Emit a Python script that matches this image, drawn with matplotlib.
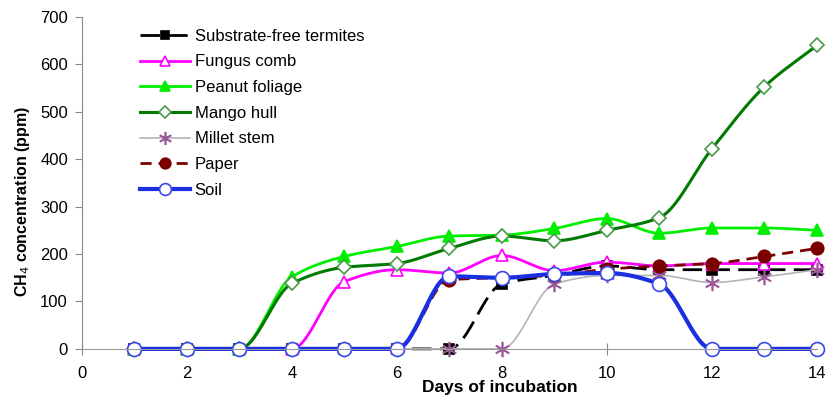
import numpy as np
import matplotlib
matplotlib.use("Agg")
from matplotlib import pyplot as plt
from matplotlib.lines import Line2D

plt.rcParams['font.family'] = ['Liberation Sans', 'DejaVu Sans']

days = [1, 2, 3, 4, 5, 6, 7, 8, 9, 10, 11, 12, 13, 14]

termites = [0, 0, 0, 0, 0, 0, 0, 137, 155, 175, 167, 167, 167, 167]
fungus = [0, 0, 0, 0, 142, 167, 160, 197, 165, 183, 175, 180, 180, 180]
peanut = [0, 0, 0, 152, 195, 216, 238, 240, 254, 275, 244, 255, 255, 250]
mango = [0, 0, 0, 138, 172, 180, 212, 238, 228, 250, 277, 422, 553, 640]
millet = [0, 0, 0, 0, 0, 0, 0, 0, 137, 155, 155, 140, 152, 167]
paper = [0, 0, 0, 0, 0, 0, 146, 150, 155, 168, 175, 180, 195, 212]
soil = [0, 0, 0, 0, 0, 0, 153, 150, 158, 160, 137, 0, 0, 0]

names = ['Substrate-free termites', 'Fungus comb', 'Peanut foliage',
         'Mango hull', 'Millet stem', 'Paper', 'Soil']


def smooth(x, y, n=30):
    # monotone cubic hermite (Fritsch-Carlson), no overshoot below the flat zero parts
    x = np.asarray(x, float)
    y = np.asarray(y, float)
    h = np.diff(x)
    d = np.diff(y) / h
    m = np.zeros_like(y)
    m[0], m[-1] = d[0], d[-1]
    for i in range(1, len(y) - 1):
        if d[i - 1] * d[i] > 0:
            m[i] = 2.0 / (1.0 / d[i - 1] + 1.0 / d[i])
    xs, ys = [], []
    t = np.linspace(0, 1, n)
    for i in range(len(h)):
        h00 = 2 * t ** 3 - 3 * t ** 2 + 1
        h10 = t ** 3 - 2 * t ** 2 + t
        h01 = -2 * t ** 3 + 3 * t ** 2
        h11 = t ** 3 - t ** 2
        xs.extend(x[i] + t * h[i])
        ys.extend(h00 * y[i] + h10 * h[i] * m[i] + h01 * y[i + 1] + h11 * h[i] * m[i + 1])
    return xs, ys


fig = plt.figure(figsize=(8.26, 3.96), dpi=100)
ax = fig.add_axes([0.099, 0.119, 0.890, 0.838])

styles = [
    dict(color='black', lw=2.0, ls=(0, (7, 3)), marker='s', mfc='black', mec='black', ms=7),
    dict(color='#ff00ff', lw=2.0, ls='-', marker='^', mfc='white', mec='#ff00ff', ms=9),
    dict(color='#00ee00', lw=2.0, ls='-', marker='^', mfc='#00ee00', mec='#00ee00', ms=9),
    dict(color='#007a00', lw=2.2, ls='-', marker='D', mfc='white', mec='#4a9a4a', ms=7),
    dict(color='#b4b4b4', lw=1.2, ls='-', marker=(6, 2, 0), mfc='none', mec='#9a5a9a', ms=11),
    dict(color='#7a0000', lw=2.0, ls=(0, (4, 2.5)), marker='o', mfc='#7a0000', mec='#7a0000', ms=9),
    dict(color='#1a2fe0', lw=3.0, ls='-', marker='o', mfc='white', mec='#3a4ae8', ms=10),
]

series = [termites, fungus, peanut, mango, millet, paper, soil]
handles = []
for vals, st, name in zip(series, styles, names):
    sx, sy = smooth(days, vals)
    ax.plot(sx, sy, color=st['color'], lw=st['lw'], ls=st['ls'], clip_on=False)
    ax.plot(days, vals, ls='none', marker=st['marker'], mfc=st['mfc'], mec=st['mec'],
            ms=st['ms'], mew=1.2, clip_on=False)
    handles.append(Line2D([], [], color=st['color'], lw=st['lw'], ls=st['ls'],
                          marker=st['marker'], mfc=st['mfc'], mec=st['mec'],
                          ms=st['ms'] * 0.85, mew=1.2))

ax.set_xlim(0, 14)
ax.set_ylim(0, 700)
ax.set_xticks(range(0, 15, 2))
ax.set_yticks(range(0, 701, 100))
for s in ['top', 'right']:
    ax.spines[s].set_visible(False)
ax.spines['left'].set_color('#888888')
ax.spines['bottom'].set_color('#999999')
ax.tick_params(axis='y', direction='out', length=5, color='#888888', labelsize=12, pad=5)
ax.tick_params(axis='x', direction='inout', length=8, color='#888888', labelsize=12, pad=8)

ax.set_ylabel('CH$_4$ concentration (ppm)', fontsize=11.5, fontweight='bold')
ax.yaxis.set_label_coords(-0.068, 0.445)
ax.set_xlabel('Days of incubation', fontsize=12.5, fontweight='bold')
ax.xaxis.set_label_coords(0.568, -0.093)

ax.legend(handles, names, loc='upper left', bbox_to_anchor=(0.065, 0.995), frameon=False,
          fontsize=12, handlelength=3.0, labelspacing=0.64, handletextpad=0.3,
          borderaxespad=0.2)

fig.savefig('out.png', dpi=100)
